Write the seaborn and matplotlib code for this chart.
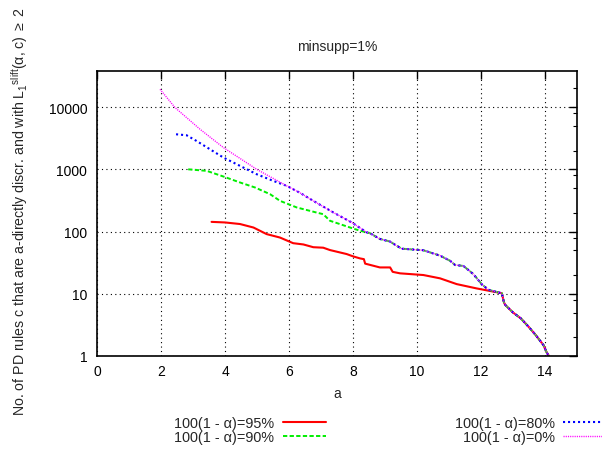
import numpy as np
import pandas as pd
import matplotlib
matplotlib.use("Agg")
import matplotlib.pyplot as plt
import seaborn as sns
from matplotlib.ticker import LogLocator, NullFormatter, FixedLocator

# values (x = a, y = number of rules)
# common tail shared by all four series (x >= 12.65)
tail_x = [12.72, 12.76, 13.0, 13.25, 13.5, 13.7, 13.95, 14.05, 14.12]
tail_y = [7.2, 6.6, 5.0, 4.0, 2.9, 2.2, 1.5, 1.15, 1.0]

# tail shared by 90%, 80% and 0% (8.5 <= x <= 12.65)
mid_x = [8.53, 8.84, 9.16, 9.3, 9.52, 10.2, 10.72, 11.03, 11.19, 11.45, 11.76, 12.02, 12.23, 12.65]
mid_y = [94, 76, 69, 62, 53, 50, 41, 34, 29, 28, 20.7, 14.3, 11.6, 10.2]

# 80% and 0% coincide from x ~ 5.9 up to 8.5
hi_x = [6.34, 6.76, 7.39, 7.96, 8.43]
hi_y = [420, 311, 202, 140, 97]

red_x = [3.58, 4.0, 4.47, 4.89, 5.3, 5.72, 6.13, 6.45, 6.76, 7.07, 7.28, 7.8, 8.01, 8.22, 8.34, 8.38,
         8.84, 9.16, 9.24, 9.47, 10.2, 10.72, 11.24, 11.86, 12.65]
red_y = [143, 140, 132, 116, 91, 80, 65, 62, 56, 55, 50.4, 43.5, 39.8, 37, 36, 30.5,
         26.5, 26.5, 22.5, 21.3, 20, 17.7, 14.3, 12.2, 10.2]

green_x = [2.85, 3.43, 3.95, 4.47, 4.94, 5.41, 5.72, 6.24, 6.86, 7.07, 7.28, 7.91, 8.22]
green_y = [1000, 944, 766, 614, 510, 398, 311, 244, 202, 190, 149, 116, 103]

blue_x = [2.47, 2.8, 3.11, 3.53, 3.95, 4.47, 4.99, 5.51, 5.93]
blue_y = [3656, 3525, 2857, 2100, 1545, 1135, 834, 651, 542]

magenta_x = [1.97, 2.44, 3.22, 3.95, 4.99, 5.93]
magenta_y = [19300, 9800, 4400, 2236, 1000, 542]

labels = ["100(1 - \u03b1)=95%", "100(1 - \u03b1)=90%", "100(1 - \u03b1)=80%", "100(1 - \u03b1)=0%"]
colors = ["#ff0000", "#00ee00", "#0000ff", "#ff00ff"]

series = {
    labels[0]: (red_x + tail_x, red_y + tail_y),
    labels[1]: (green_x + mid_x + tail_x, green_y + mid_y + tail_y),
    labels[2]: (blue_x + hi_x + mid_x + tail_x, blue_y + hi_y + mid_y + tail_y),
    labels[3]: (magenta_x + hi_x + mid_x + tail_x, magenta_y + hi_y + mid_y + tail_y),
}
styles = [
    dict(linestyle="-", linewidth=1.5),
    dict(linestyle=(0, (2.2, 1.2)), linewidth=1.4),
    dict(linestyle=(0, (1.0, 1.4)), linewidth=1.5),
    dict(linestyle=(0, (0.8, 0.8)), linewidth=1.0),
]

sns.set_style("white")
plt.rcParams["font.family"] = ["Liberation Sans", "DejaVu Sans"]
plt.rcParams["mathtext.fontset"] = "custom"
plt.rcParams["mathtext.rm"] = "Liberation Sans"
plt.rcParams["mathtext.it"] = "Liberation Sans"
plt.rcParams["mathtext.default"] = "regular"

fig = plt.figure(figsize=(6.02, 4.52), dpi=100)
ax = fig.add_axes([97 / 602, 1 - 357 / 452, 480 / 602, 285 / 452])

for (lab, (xs, ys)), col, st in zip(series.items(), colors, styles):
    df = pd.DataFrame({"a": xs, "n": ys})
    sns.lineplot(data=df, x="a", y="n", ax=ax, color=col, label=lab,
                 sort=False, estimator=None, **st)

ax.set_yscale("log")
ax.set_xlim(0, 15)
ax.set_ylim(1, 38000)
ax.xaxis.set_major_locator(FixedLocator([0, 2, 4, 6, 8, 10, 12, 14]))
ax.yaxis.set_major_locator(FixedLocator([1, 10, 100, 1000, 10000]))
ax.set_yticklabels(["1", "10", "100", "1000", "10000"])
ax.yaxis.set_minor_locator(LogLocator(base=10, subs=(2, 5, 8)))
ax.yaxis.set_minor_formatter(NullFormatter())

ax.tick_params(axis="both", which="both", direction="in", top=True, right=True,
               labelsize=10, colors="black")
ax.tick_params(axis="y", which="major", length=6, width=1, pad=7)
ax.tick_params(axis="y", which="minor", length=3, width=0.8)
ax.tick_params(axis="x", which="major", length=6, width=1, pad=6)
ax.grid(True, which="major", color="black", linestyle=(0, (1, 3)), linewidth=0.8)
for sp in ax.spines.values():
    sp.set_color("black")
    sp.set_linewidth(1.2)

ax.text(0.5, 1.088, "minsupp=1%", transform=ax.transAxes, ha="center", va="center", fontsize=10)
ax.set_xlabel("a", fontsize=10)
ax.xaxis.set_label_coords(0.5, -0.105)
ax.set_ylabel(r"No. of PD rules c that are a-directly discr. and with L$_1$$^{slift}$($\alpha$, c) $\geq$ 2",
              fontsize=10.2)
ax.yaxis.set_label_coords(-0.14, 0.51)

handles, labs = ax.get_legend_handles_labels()
ax.get_legend().remove()
fig.legend(handles, labs, ncol=2, loc="upper left", bbox_to_anchor=(174 / 602, 1 - 417 / 452),
           frameon=False, markerfirst=False, handlelength=3.0, handletextpad=0.6,
           labelspacing=0.0, columnspacing=8.9, borderpad=0, borderaxespad=0, fontsize=10.4)

fig.savefig("out.png", dpi=100)
